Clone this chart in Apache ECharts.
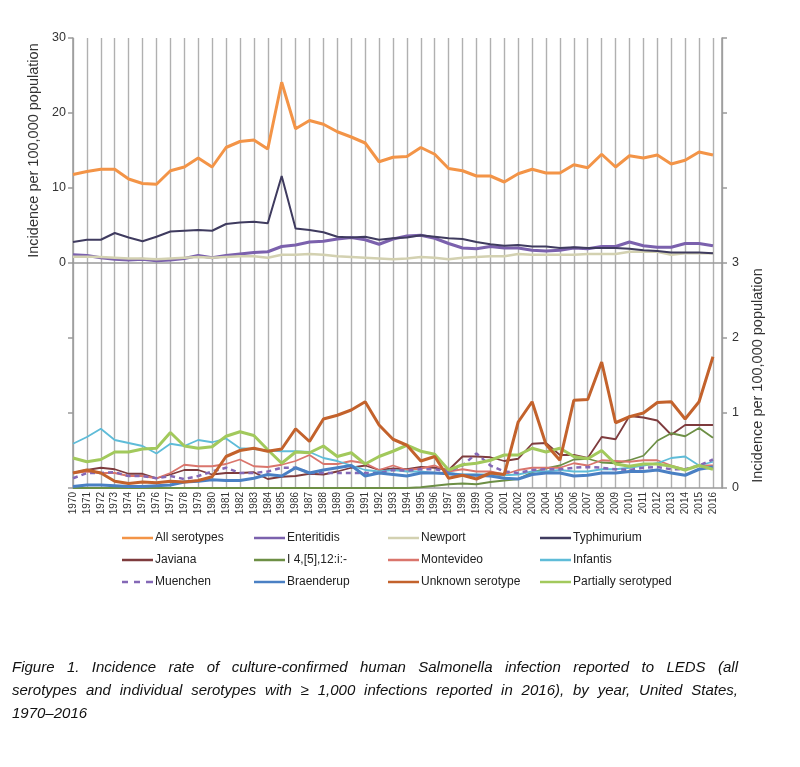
<!DOCTYPE html>
<html><head><meta charset="utf-8">
<script src="https://cdn.jsdelivr.net/npm/echarts@6/dist/echarts.min.js"></script>
<style>html,body{margin:0;padding:0;background:#fff}#c{width:800px;height:767px}</style>
</head><body><div id="c"></div>
<script>
const years = [1970,1971,1972,1973,1974,1975,1976,1977,1978,1979,1980,1981,1982,1983,1984,1985,1986,1987,1988,1989,1990,1991,1992,1993,1994,1995,1996,1997,1998,1999,2000,2001,2002,2003,2004,2005,2006,2007,2008,2009,2010,2011,2012,2013,2014,2015,2016];

// top panel (left axis, 0-30)
const allSerotypes = [11.8,12.2,12.5,12.5,11.2,10.6,10.5,12.3,12.8,14.0, 12.8,15.4,16.2,16.4,15.2,24.1,17.9,19.0,18.5,17.5, 16.8,16.0,13.5,14.1,14.2,15.4,14.5,12.6,12.3,11.6, 11.6,10.8,11.9,12.5,12.0,12.0,13.1,12.7,14.5,12.8, 14.3,14.0,14.4,13.2,13.7,14.8,14.4];
const enteritidis = [1.1,1.0,0.7,0.5,0.4,0.5,0.3,0.4,0.6,1.0, 0.7,1.0,1.2,1.4,1.5,2.2,2.4,2.8,2.9,3.2, 3.4,3.1,2.5,3.2,3.6,3.7,3.3,2.6,2.0,1.9, 2.2,2.0,2.0,1.7,1.6,1.7,2.0,1.9,2.2,2.2, 2.8,2.3,2.1,2.1,2.6,2.6,2.3];
const newport = [0.85,0.85,0.8,0.7,0.6,0.6,0.5,0.6,0.7,0.8, 0.7,0.8,0.9,0.9,0.7,1.1,1.1,1.2,1.1,0.9, 0.8,0.7,0.6,0.5,0.6,0.8,0.7,0.5,0.7,0.8, 0.9,0.9,1.2,1.1,1.1,1.1,1.1,1.2,1.2,1.2, 1.5,1.5,1.5,1.1,1.3,1.3,1.3];
const typhimurium = [2.8,3.1,3.1,4.0,3.4,2.9,3.5,4.2,4.3,4.4, 4.3,5.2,5.4,5.5,5.3,11.6,4.6,4.4,4.1,3.5, 3.4,3.5,3.1,3.3,3.4,3.7,3.5,3.3,3.2,2.8, 2.5,2.3,2.4,2.2,2.2,2.0,2.1,2.0,2.0,2.0, 1.9,1.7,1.6,1.4,1.4,1.4,1.3];

// bottom panel (right axis, 0-3)
const javiana = [0.2,0.24,0.27,0.25,0.19,0.19,0.13,0.18,0.24,0.24, 0.18,0.2,0.2,0.21,0.12,0.15,0.16,0.19,0.18,0.22, 0.27,0.3,0.24,0.26,0.25,0.28,0.27,0.24,0.42,0.42, 0.41,0.36,0.39,0.59,0.6,0.44,0.44,0.4,0.68,0.65, 0.96,0.94,0.9,0.71,0.84,0.84,0.84];
const i4512 = [0,0,0,0,0,0,0,0,0,0, 0,0,0,0,0,0,0,0,0,0, 0,0,0,0,0,0.01,0.03,0.05,0.06,0.05, 0.08,0.1,0.12,0.21,0.26,0.3,0.38,0.39,0.34,0.33, 0.37,0.43,0.63,0.73,0.69,0.8,0.67];
const montevideo = [0.2,0.22,0.2,0.2,0.16,0.16,0.13,0.2,0.31,0.29, 0.29,0.32,0.38,0.29,0.28,0.31,0.36,0.44,0.32,0.32, 0.36,0.33,0.24,0.3,0.24,0.26,0.3,0.22,0.25,0.22, 0.22,0.18,0.24,0.27,0.27,0.27,0.33,0.3,0.37,0.36, 0.35,0.37,0.37,0.3,0.25,0.3,0.3];
const infantis = [0.59,0.68,0.79,0.64,0.6,0.56,0.46,0.59,0.56,0.64, 0.61,0.66,0.53,0.52,0.5,0.49,0.49,0.48,0.4,0.36, 0.3,0.24,0.22,0.24,0.22,0.22,0.2,0.2,0.18,0.18, 0.18,0.17,0.18,0.22,0.22,0.24,0.22,0.22,0.25,0.25, 0.27,0.3,0.33,0.4,0.42,0.3,0.35];
const muenchen = [0.13,0.2,0.2,0.21,0.16,0.16,0.13,0.16,0.12,0.16, 0.22,0.27,0.2,0.2,0.22,0.27,0.27,0.2,0.2,0.2, 0.2,0.2,0.2,0.24,0.23,0.25,0.25,0.22,0.3,0.46, 0.3,0.22,0.2,0.24,0.25,0.25,0.27,0.28,0.27,0.25, 0.24,0.27,0.28,0.25,0.25,0.3,0.38];
const braenderup = [0.02,0.04,0.04,0.03,0.02,0.02,0.03,0.04,0.08,0.09, 0.11,0.1,0.1,0.13,0.18,0.16,0.27,0.2,0.24,0.27, 0.3,0.16,0.2,0.18,0.16,0.2,0.2,0.19,0.17,0.17, 0.16,0.13,0.12,0.18,0.2,0.2,0.16,0.17,0.2,0.2, 0.22,0.22,0.24,0.2,0.17,0.25,0.28];
const unknownSerotype = [0.2,0.24,0.2,0.09,0.06,0.08,0.07,0.09,0.08,0.1, 0.15,0.42,0.5,0.53,0.49,0.52,0.79,0.62,0.92,0.97, 1.04,1.15,0.84,0.65,0.57,0.36,0.42,0.13,0.17,0.12, 0.2,0.18,0.88,1.15,0.58,0.37,1.17,1.18,1.68,0.87, 0.95,1.0,1.14,1.15,0.92,1.15,1.75];
const partiallySerotyped = [0.4,0.35,0.38,0.48,0.48,0.52,0.53,0.74,0.56,0.53, 0.55,0.69,0.75,0.7,0.51,0.33,0.48,0.47,0.56,0.42, 0.47,0.32,0.42,0.49,0.57,0.49,0.45,0.24,0.31,0.33, 0.37,0.44,0.44,0.53,0.48,0.53,0.42,0.39,0.5,0.32, 0.29,0.32,0.32,0.29,0.24,0.3,0.25];

const topTicks = [0,10,20,30];
const bottomTicks = [0,1,2,3];
const yTitle = 'Incidence per 100,000 population';
const captionLines = [
  'Figure 1. Incidence rate of culture-confirmed human Salmonella infection reported to LEDS (all',
  'serotypes and individual serotypes with \u2265 1,000 infections reported in 2016), by year, United States,',
  '1970\u20132016'
];

const FONT = '"Liberation Sans", Arial, sans-serif';
const pairs = arr => years.map((y, i) => [y, arr[i]]);

const seriesDefs = [
  {name:'All serotypes', data:allSerotypes, color:'#f39447', w:3, panel:0},
  {name:'Enteritidis', data:enteritidis, color:'#7b61ad', w:3, panel:0},
  {name:'Newport', data:newport, color:'#d3d1b1', w:2.5, panel:0},
  {name:'Typhimurium', data:typhimurium, color:'#3f3b5f', w:2, panel:0},
  {name:'Javiana', data:javiana, color:'#7e3b3d', w:1.8, panel:1},
  {name:'I 4,[5],12:i:-', data:i4512, color:'#6d8f45', w:1.8, panel:1},
  {name:'Montevideo', data:montevideo, color:'#da756c', w:1.8, panel:1},
  {name:'Infantis', data:infantis, color:'#5fbcd8', w:1.8, panel:1},
  {name:'Muenchen', data:muenchen, color:'#8468b6', w:2.5, panel:1, dash:[5,4]},
  {name:'Braenderup', data:braenderup, color:'#4a80c4', w:3, panel:1},
  {name:'Unknown serotype', data:unknownSerotype, color:'#c3622c', w:3, panel:1},
  {name:'Partially serotyped', data:partiallySerotyped, color:'#a2c95c', w:3, panel:1}
];

const chart = echarts.init(document.getElementById('c'), null, {renderer:'canvas'});

const axisLineStyle = {color:'#9a9a9a', width:1.5};
const gridLeft = 73, gridRight = 78;

const xBase = {
  type:'value', min:1970, max:2016.65, interval:1,
  axisTick:{show:false},
  axisLine:{show:true, lineStyle:axisLineStyle},
  splitLine:{show:true, lineStyle:{color:'#b0b0b0', width:1.4}}
};

const yBase = (grid, pos, max, interval, showLabel, name) => ({
  type:'value', gridIndex:grid, position:pos, min:0, max:max, interval:interval,
  axisLine:{show:true, lineStyle:axisLineStyle},
  axisTick:{show:true, length:5, lineStyle:axisLineStyle},
  splitLine:{show:false},
  axisLabel:{show:showLabel, color:'#333', fontSize:12.5, fontFamily:FONT, margin: pos==='left' ? 7 : 10},
  name: name || '', nameLocation:'middle', nameRotate:90,
  nameGap: pos==='left' ? 31 : 28,
  nameTextStyle:{color:'#333', fontSize:14.5, fontFamily:FONT}
});

const legendCols = [
  {left:122, items:['All serotypes','Javiana','Muenchen']},
  {left:254, items:['Enteritidis','I 4,[5],12:i:-','Braenderup']},
  {left:388, items:['Newport','Montevideo','Unknown serotype']},
  {left:540, items:['Typhimurium','Infantis','Partially serotyped']}
];
const dashIcon = 'path://M0,0h6v2.5h-6z M12,0h6v2.5h-6z M24,0h7v2.5h-7z';

const option = {
  animation:false,
  textStyle:{fontFamily:FONT},
  grid:[
    {left:gridLeft, right:gridRight, top:38, height:225},
    {left:gridLeft, right:gridRight, top:263, height:225}
  ],
  xAxis:[
    Object.assign({}, xBase, {gridIndex:0, axisLabel:{show:false}}),
    Object.assign({}, xBase, {gridIndex:1, axisLabel:{
      show:true, rotate:90, fontSize:10, color:'#333', fontFamily:FONT, margin:4,
      formatter: v => Number.isInteger(v) ? String(v) : ''
    }})
  ],
  yAxis:[
    yBase(0,'left',30,10,true,yTitle),
    yBase(0,'right',30,10,false),
    yBase(1,'left',3,1,false),
    yBase(1,'right',3,1,true,yTitle)
  ],
  legend: legendCols.map(c => ({
    orient:'vertical', left:c.left, top:531, itemWidth:31, itemHeight:2.5, itemGap:8,
    padding:0, selectedMode:false,
    data:c.items.map(n => ({name:n, icon: n==='Muenchen' ? dashIcon : 'rect'})),
    textStyle:{fontSize:12, color:'#222', fontFamily:FONT, padding:[0,0,0,-3], lineHeight:14}
  })),
  series: seriesDefs.map(s => ({
    name:s.name, type:'line', xAxisIndex:s.panel, yAxisIndex:s.panel===0?0:3,
    data:pairs(s.data), symbol:'none', smooth:false,
    lineStyle:{color:s.color, width:s.w, type: s.dash ? s.dash : 'solid'},
    itemStyle:{color:s.color}, z: s.name==='Unknown serotype' ? 3 : 2
  })),
  graphic: []
};

// caption (justified first two lines)
const capFont = 'italic 15px "Liberation Sans", Arial, sans-serif';
const ctx = document.createElement('canvas').getContext('2d');
ctx.font = capFont;
const capLeft = 12, capRight = 738, capTops = [660, 683, 706];
captionLines.forEach((line, li) => {
  if (li < 2) {
    const words = line.split(' ');
    const widths = words.map(w => ctx.measureText(w).width);
    const total = widths.reduce((a,b)=>a+b,0);
    const gap = (capRight - capLeft - total) / (words.length - 1);
    let x = capLeft;
    words.forEach((w, wi) => {
      option.graphic.push({type:'text', left:x, top:capTops[li], style:{text:w, font:capFont, fill:'#111'}});
      x += widths[wi] + gap;
    });
  } else {
    option.graphic.push({type:'text', left:capLeft, top:capTops[li], style:{text:line, font:capFont, fill:'#111'}});
  }
});

chart.setOption(option);
</script>
</body></html>
